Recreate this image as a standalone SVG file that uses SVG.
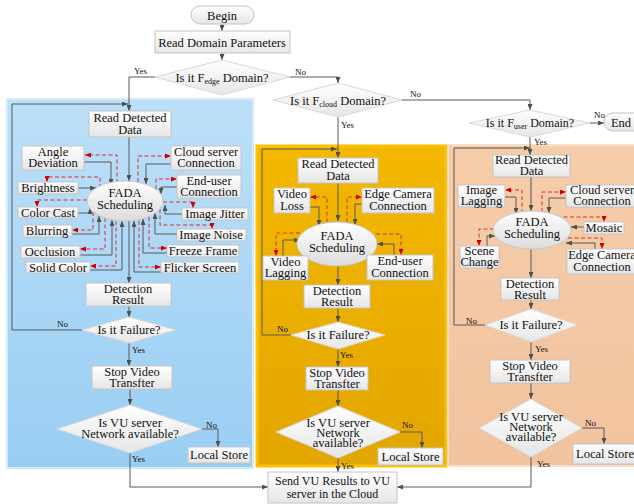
<svg xmlns="http://www.w3.org/2000/svg" width="634" height="504" viewBox="0 0 634 504" font-family="'Liberation Serif', 'Times New Roman', serif">
<defs>
<linearGradient id="gBox" x1="0" y1="0" x2="0" y2="1"><stop offset="0" stop-color="#FFFFFF"/><stop offset="1" stop-color="#E6E6E6"/></linearGradient>
<linearGradient id="gEll" x1="0" y1="0" x2="0" y2="1"><stop offset="0" stop-color="#FFFFFF"/><stop offset="1" stop-color="#DCDCDC"/></linearGradient>
<linearGradient id="gBlue" x1="0" y1="0" x2="0" y2="1"><stop offset="0" stop-color="#BDE0F9"/><stop offset="1" stop-color="#99CEF3"/></linearGradient>
<linearGradient id="gOrange" x1="0" y1="0" x2="0" y2="1"><stop offset="0" stop-color="#F4B800"/><stop offset="1" stop-color="#E2A600"/></linearGradient>
<linearGradient id="gPeach" x1="0" y1="0" x2="0" y2="1"><stop offset="0" stop-color="#F6CDAA"/><stop offset="1" stop-color="#F1C39E"/></linearGradient>
<marker id="a" markerWidth="6" markerHeight="5" refX="6" refY="2.5" orient="auto" markerUnits="userSpaceOnUse"><path d="M0,0 L6,2.5 L0,5 z" fill="#505050"/></marker>
<marker id="r" markerWidth="6" markerHeight="5" refX="6" refY="2.5" orient="auto" markerUnits="userSpaceOnUse"><path d="M0,0 L6,2.5 L0,5 z" fill="#D00000"/></marker>
<style>
.box{fill:url(#gBox);stroke:#C4C4C4;stroke-width:1}
.dia{fill:url(#gBox);stroke:#D8D8D8;stroke-width:1}
.ell{fill:url(#gEll);stroke:#C8C8C8;stroke-width:1}
text{font-family:'Liberation Serif','Times New Roman',serif;font-size:12.5px;fill:#111;text-anchor:middle}
.sm{font-size:9px;text-anchor:start}
.sub{font-size:8px}
.ln{fill:none;stroke:#595959;stroke-width:1;marker-end:url(#a)}
.dl{fill:none;stroke:#D83030;stroke-width:1;stroke-dasharray:4 2.5;marker-end:url(#r)}
</style>
</defs>
<rect width="634" height="504" fill="#FFFFFF"/>
<g id="panels">
<rect x="7" y="99" width="246" height="369" fill="url(#gBlue)" stroke="#D2EAFB" stroke-width="2"/>
<rect x="257" y="146" width="189" height="320" fill="url(#gOrange)" stroke="#FFC000" stroke-width="3"/>
<rect x="448" y="145" width="192" height="321" fill="url(#gPeach)" stroke="#F9DDC8" stroke-width="2"/>
</g>
<g id="connectors">
<path class="ln" d="M222,24 V31"/>
<path class="ln" d="M222,53 V60"/>
<path class="ln" d="M155,77 H129 V111"/>
<path class="ln" d="M290,77 H338 V83"/>
<path class="ln" d="M402,100 H530 V110"/>
<path class="ln" d="M338,117 V158"/>
<path class="ln" d="M590,123 H604"/>
<path class="ln" d="M530,137 V155"/>
<path class="ln" d="M82,330 H12 V104 H128"/>
<path class="ln" d="M129,137 V181"/>
<path class="ln" d="M129,221 V283"/>
<path class="ln" d="M129,306 V317"/>
<path class="ln" d="M129,343 V366"/>
<path class="ln" d="M130,389 V405"/>
<path class="ln" d="M202,429 H218 V447"/>
<path class="ln" d="M130,453 V487 H268"/>
<path class="dl" d="M117,183 V155 H85"/>
<path class="ln" d="M84,162 H111 V185"/>
<path class="dl" d="M138,182 V156 H171"/>
<path class="ln" d="M171,164 H146 V184"/>
<path class="dl" d="M100,188 V177 H47 V182"/>
<path class="ln" d="M78,188 H96"/>
<path class="dl" d="M156,189 V179 H177"/>
<path class="ln" d="M177,187 H161 V194"/>
<path class="dl" d="M87,200 H37 V207"/>
<path class="ln" d="M78,213 H90 V208"/>
<path class="dl" d="M93,212 V230 H72"/>
<path class="ln" d="M72,234 H99 V216"/>
<path class="dl" d="M105,218 V249 H80"/>
<path class="ln" d="M80,255 H112 V220"/>
<path class="dl" d="M116,221 V266 H90"/>
<path class="ln" d="M90,270 H122 V221"/>
<path class="ln" d="M161,272 H134 V221"/>
<path class="dl" d="M139,221 V267 H161"/>
<path class="ln" d="M167,253 H143 V219"/>
<path class="dl" d="M149,217 V248 H167"/>
<path class="ln" d="M177,234 H155 V213"/>
<path class="dl" d="M160,209 V225 H212 V229"/>
<path class="ln" d="M182,214 H165 V205"/>
<path class="dl" d="M163,202 H193 V208"/>
<path class="ln" d="M291,335 H262 V149 H337"/>
<path class="ln" d="M338,183 V221"/>
<path class="ln" d="M338,266 V285"/>
<path class="ln" d="M338,308 V322"/>
<path class="ln" d="M338,349 V367"/>
<path class="ln" d="M338,390 V406"/>
<path class="ln" d="M400,432 H422 V448"/>
<path class="ln" d="M338,458 V472"/>
<path class="dl" d="M327,222 V197 H310"/>
<path class="ln" d="M310,207 H319 V226"/>
<path class="dl" d="M347,222 V197 H362"/>
<path class="ln" d="M362,204 H355 V225"/>
<path class="dl" d="M300,233 H276 V256"/>
<path class="ln" d="M283,256 V240 H300"/>
<path class="dl" d="M376,234 H401 V255"/>
<path class="ln" d="M394,255 V244 H377"/>
<path class="ln" d="M485,325 H454 V148 H530"/>
<path class="ln" d="M531,177 V211"/>
<path class="ln" d="M531,249 V278"/>
<path class="ln" d="M531,300 V309"/>
<path class="ln" d="M531,342 V360"/>
<path class="ln" d="M531,383 V399"/>
<path class="ln" d="M582,428 H604 V444"/>
<path class="ln" d="M531,457 V487 H397"/>
<path class="dl" d="M522,213 V190 H505"/>
<path class="ln" d="M505,197 H516 V214"/>
<path class="dl" d="M542,212 V192 H566"/>
<path class="ln" d="M566,198 H549 V213"/>
<path class="dl" d="M557,217 H604 V222"/>
<path class="ln" d="M584,227 H571"/>
<path class="dl" d="M568,238 H602 V249"/>
<path class="ln" d="M595,249 V243 H566"/>
<path class="dl" d="M494,229 H479 V246"/>
<path class="ln" d="M487,246 V236 H495"/>
</g>
<g id="labels">
<text class="sm" x="134" y="74">Yes</text>
<text class="sm" x="295" y="75">No</text>
<text class="sm" x="410" y="97">No</text>
<text class="sm" x="341" y="128">Yes</text>
<text class="sm" x="594" y="118">No</text>
<text class="sm" x="534" y="145">Yes</text>
<text class="sm" x="57" y="327">No</text>
<text class="sm" x="132" y="353">Yes</text>
<text class="sm" x="206" y="428">No</text>
<text class="sm" x="132" y="462">Yes</text>
<text class="sm" x="277" y="332">No</text>
<text class="sm" x="340" y="358">Yes</text>
<text class="sm" x="402" y="428">No</text>
<text class="sm" x="341" y="469">Yes</text>
<text class="sm" x="466" y="324">No</text>
<text class="sm" x="535" y="352">Yes</text>
<text class="sm" x="585" y="426">No</text>
<text class="sm" x="537" y="467">Yes</text>
</g>
<g id="begin"><rect class="box" x="191" y="6" width="63" height="18" rx="9"/><text x="222" y="19.5">Begin</text></g>
<g id="read-domain"><rect class="box" x="155" y="31" width="135" height="22"/><text x="222" y="46.5">Read Domain Parameters</text></g>
<g id="is-edge"><polygon class="dia" points="222,60 290,77 222,95 155,77"/><text x="222" y="81.5">Is it F<tspan class="sub" dy="2">edge</tspan><tspan dy="-2"> Domain?</tspan></text></g>
<g id="is-cloud"><polygon class="dia" points="338,83 402,100 338,117 273,100"/><text x="338" y="104.5">Is it F<tspan class="sub" dy="2">cloud</tspan><tspan dy="-2"> Domain?</tspan></text></g>
<g id="is-user"><polygon class="dia" points="530,110 590,123 530,137 469,123"/><text x="530" y="127" style="font-size:12px">Is it F<tspan class="sub" dy="2">user</tspan><tspan dy="-2"> Domain?</tspan></text></g>
<g id="end"><rect class="box" x="604" y="113" width="42" height="18" rx="9"/><text x="621" y="126.5">End</text></g>
<g id="l-read"><rect class="box" x="89" y="111" width="82" height="26"/><text x="130" y="122">Read Detected</text><text x="130" y="134">Data</text></g>
<g id="l-fada"><ellipse class="ell" cx="125" cy="201" rx="38" ry="20"/><text x="125" y="197">FADA</text><text x="125" y="209">Scheduling</text></g>
<g id="l-angle"><rect class="box" x="22" y="146" width="62" height="24"/><text x="53" y="156">Angle</text><text x="53" y="167">Deviation</text></g>
<g id="l-cloud"><rect class="box" x="171" y="146" width="70" height="24"/><text x="206" y="156">Cloud server</text><text x="206" y="167">Connection</text></g>
<g id="l-bright"><rect class="box" x="18" y="182" width="60" height="12"/><text x="48" y="192">Brightness</text></g>
<g id="l-enduser"><rect class="box" x="177" y="175" width="64" height="23"/><text x="209" y="185">End-user</text><text x="209" y="196">Connection</text></g>
<g id="l-colorcast"><rect class="box" x="18" y="207" width="60" height="11"/><text x="48" y="217">Color Cast</text></g>
<g id="l-jitter"><rect class="box" x="182" y="208" width="66" height="12"/><text x="215" y="218">Image Jitter</text></g>
<g id="l-blur"><rect class="box" x="23" y="225" width="49" height="12"/><text x="47" y="235">Blurring</text></g>
<g id="l-noise"><rect class="box" x="177" y="229" width="69" height="12"/><text x="211" y="239">Image Noise</text></g>
<g id="l-occl"><rect class="box" x="21" y="246" width="59" height="12"/><text x="50" y="256">Occlusion</text></g>
<g id="l-freeze"><rect class="box" x="167" y="245" width="72" height="12"/><text x="203" y="255">Freeze Frame</text></g>
<g id="l-solid"><rect class="box" x="26" y="262" width="64" height="11"/><text x="58" y="272">Solid Color</text></g>
<g id="l-flicker"><rect class="box" x="161" y="262" width="78" height="11"/><text x="200" y="272">Flicker Screen</text></g>
<g id="l-detect"><rect class="box" x="86" y="283" width="85" height="23"/><text x="128" y="293">Detection</text><text x="128" y="304">Result</text></g>
<g id="l-failure"><polygon class="dia" points="129,317 176,330 129,343 82,330"/><text x="129" y="334">Is it Failure?</text></g>
<g id="l-stop"><rect class="box" x="92" y="366" width="80" height="23"/><text x="132" y="376">Stop Video</text><text x="132" y="387">Transfter</text></g>
<g id="l-net"><polygon class="dia" points="130,405 202,429 130,453 57,429"/><text x="130" y="427">Is VU server</text><text x="130" y="438">Network available?</text></g>
<g id="l-local"><rect class="box" x="188" y="447" width="62" height="16"/><text x="219" y="459">Local Store</text></g>
<g id="o-read"><rect class="box" x="298" y="158" width="80" height="25"/><text x="338" y="168">Read Detected</text><text x="338" y="180">Data</text></g>
<g id="o-fada"><ellipse class="ell" cx="337" cy="244" rx="40" ry="22"/><text x="337" y="240">FADA</text><text x="337" y="252">Scheduling</text></g>
<g id="o-loss"><rect class="box" x="274" y="188" width="36" height="25"/><text x="292" y="198">Video</text><text x="292" y="210">Loss</text></g>
<g id="o-edge"><rect class="box" x="362" y="188" width="72" height="25"/><text x="398" y="198">Edge Camera</text><text x="398" y="210">Connection</text></g>
<g id="o-lag"><rect class="box" x="263" y="256" width="45" height="24"/><text x="285.5" y="266">Video</text><text x="285.5" y="277">Lagging</text></g>
<g id="o-enduser"><rect class="box" x="367" y="255" width="66" height="25"/><text x="400" y="265">End-user</text><text x="400" y="277">Connection</text></g>
<g id="o-detect"><rect class="box" x="304" y="285" width="66" height="23"/><text x="337" y="295">Detection</text><text x="337" y="306">Result</text></g>
<g id="o-failure"><polygon class="dia" points="338,322 385,335 338,349 291,335"/><text x="338" y="339">Is it Failure?</text></g>
<g id="o-stop"><rect class="box" x="306" y="367" width="62" height="23"/><text x="337" y="377">Stop Video</text><text x="337" y="388">Transfter</text></g>
<g id="o-net"><polygon class="dia" points="338,406 400,432 338,458 276,432"/><text x="338" y="427">Is VU server</text><text x="338" y="437">Network</text><text x="338" y="447">available?</text></g>
<g id="o-local"><rect class="box" x="378" y="448" width="65" height="17"/><text x="410.5" y="460.5">Local Store</text></g>
<g id="p-read"><rect class="box" x="493" y="155" width="77" height="22"/><text x="531.5" y="164">Read Detected</text><text x="531.5" y="175">Data</text></g>
<g id="p-fada"><ellipse class="ell" cx="532" cy="230" rx="39" ry="19"/><text x="532" y="226">FADA</text><text x="532" y="238">Scheduling</text></g>
<g id="p-lag"><rect class="box" x="458" y="185" width="47" height="22"/><text x="481.5" y="194">Image</text><text x="481.5" y="205">Lagging</text></g>
<g id="p-cloud"><rect class="box" x="566" y="185" width="74" height="22"/><text x="602" y="194">Cloud server</text><text x="602" y="205">Connection</text></g>
<g id="p-mosaic"><rect class="box" x="584" y="222" width="40" height="12"/><text x="604" y="232">Mosaic</text></g>
<g id="p-scene"><rect class="box" x="460" y="246" width="39" height="22"/><text x="479.5" y="255">Scene</text><text x="479.5" y="266">Change</text></g>
<g id="p-edge"><rect class="box" x="567" y="249" width="73" height="25"/><text x="602" y="259">Edge Camera</text><text x="602" y="271">Connection</text></g>
<g id="p-detect"><rect class="box" x="501" y="278" width="58" height="22"/><text x="530" y="288">Detection</text><text x="530" y="299">Result</text></g>
<g id="p-failure"><polygon class="dia" points="531,309 578,325 531,342 485,325"/><text x="531" y="329">Is it Failure?</text></g>
<g id="p-stop"><rect class="box" x="490" y="360" width="80" height="23"/><text x="530" y="370">Stop Video</text><text x="530" y="381">Transfter</text></g>
<g id="p-net"><polygon class="dia" points="531,399 582,428 531,457 479,428"/><text x="531" y="421">Is VU server</text><text x="531" y="431">Network</text><text x="531" y="441">available?</text></g>
<g id="p-local"><rect class="box" x="573" y="444" width="66" height="20"/><text x="605" y="458">Local Store</text></g>
<g id="send"><rect class="box" x="268" y="472" width="129" height="31"/><text x="332.5" y="485" style="font-size:12px">Send VU Results to VU</text><text x="332.5" y="498" style="font-size:12px">server in the Cloud</text></g>
</svg>
